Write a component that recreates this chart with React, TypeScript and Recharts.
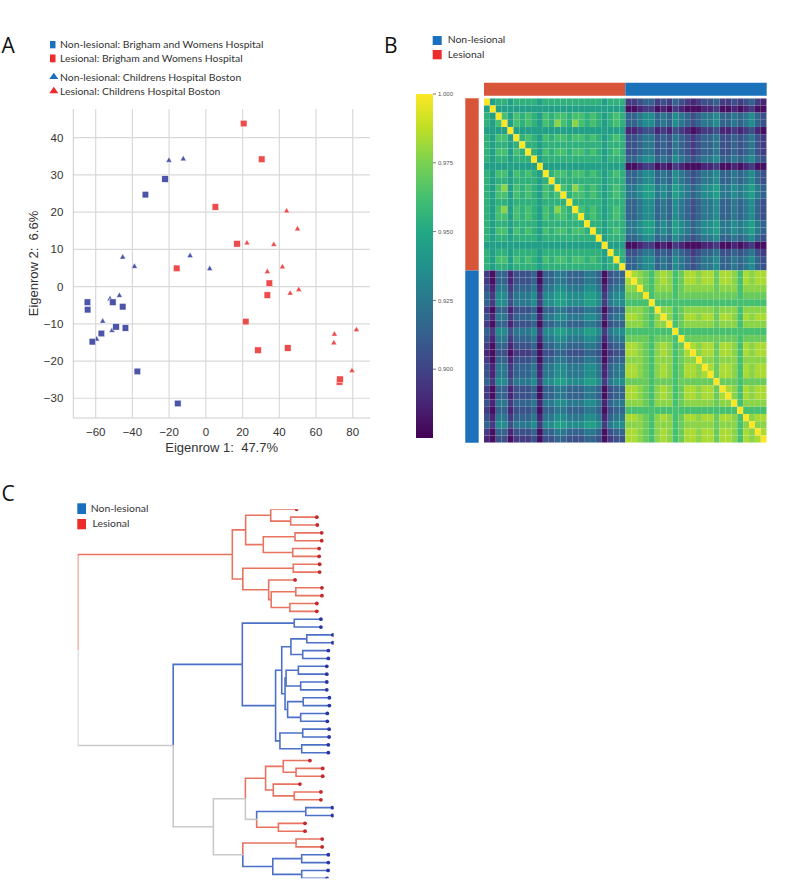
import React from "react";
import { ScatterChart, Scatter, XAxis, YAxis, ReferenceLine, ReferenceArea } from "recharts";

// ---------- Panel A: eigenrow scatter ----------
const nonLesionalBWH: [number, number][] = [
  [-22.2, 28.9], [-32.9, 24.7], [-64.5, -4.2], [-64.4, -6.2], [-50.7, -4.2], [-45.3, -5.4],
  [-48.9, -10.8], [-43.8, -11.1], [-56.9, -12.6], [-61.8, -14.8], [-37.3, -22.8], [-15.3, -31.4],
];
const nonLesionalCHB: [number, number][] = [
  [-20.1, 34.0], [-12.3, 34.4], [-45.3, 8.0], [-38.9, 5.5], [-8.6, 8.4], [2.1, 4.9],
  [-52.2, -3.2], [-47.1, -2.3], [-56.2, -9.2], [-51.1, -11.7], [-59.5, -14.0],
];
const lesionalBWH: [number, number][] = [
  [20.6, 43.8], [30.4, 34.2], [5.2, 21.4], [17.0, 11.5], [-15.9, 4.9], [34.6, 0.9],
  [33.5, -2.3], [21.7, -9.4], [28.4, -17.1], [44.6, -16.5], [72.8, -25.6], [73.1, -24.9],
];
const lesionalCHB: [number, number][] = [
  [44.0, 20.4], [49.9, 15.6], [22.4, 11.8], [37.0, 11.4], [41.7, 5.4], [33.5, 4.1],
  [45.9, -1.7], [50.6, -0.7], [70.0, -12.7], [69.7, -15.0], [82.0, -11.5], [79.6, -22.5],
];
const eigenXTicks = [-60, -40, -20, 0, 20, 40, 60, 80];
const eigenYTicks = [-30, -20, -10, 0, 10, 20, 30, 40];
const X_DOMAIN: [number, number] = [-72.2, 89.4];
const Y_DOMAIN: [number, number] = [-35.3, 47.7];

// ---------- Panel B: correlation heatmap ----------
const heatmapGroups = "LLLLLLLLLLLLLLLLLLLLLLLLNNNNNNNNNNNNNNNNNNNNNNNN";
const colorbarTicks = [0.9, 0.925, 0.95, 0.975, 1.0];
const levelValue: Record<string, number> = {
  "0": 0.88, "1": 0.888, "2": 0.897, "3": 0.906, "4": 0.915, "5": 0.925, "6": 0.935,
  "7": 0.945, "8": 0.955, "9": 0.963, a: 0.971, b: 0.978, c: 0.984, X: 1.0,
};
const corrRows = [
  "X78878888788888888887888" + "223442324321233422323421",
  "7X7777777777777777777777" + "001220102100011200101200",
  "87X979898798998998987898" + "445664546543455644545643",
  "879X79898798b98b98987898" + "445664546543455644545643",
  "7777X7777777777777777777" + "112331213210122311212310",
  "87997X898798998998987898" + "334553435432344533434532",
  "878878X88788888888887888" + "334553435432344533434532",
  "8799798X8798998998987898" + "334553435432344533434532",
  "87887888X788888888887888" + "445664546543455644545643",
  "777777777X77777777777777" + "001220102100011200101200",
  "8799798987X8998998987898" + "445664546543455644545643",
  "87887888878X888888887888" + "445664546543455644545643",
  "879b79898798X98b98987898" + "556775657654566755656754",
  "8799798987989X8998987898" + "556775657654566755656754",
  "87887888878888X888887888" + "445664546543455644545643",
  "879b79898798b98X98987898" + "445664546543455644545643",
  "8799798987989989X8987898" + "445664546543455644545643",
  "87887888878888888X887888" + "556775657654566755656754",
  "879979898798998998X87898" + "556775657654566755656754",
  "8788788887888888888X7888" + "445664546543455644545643",
  "77777777777777777777X777" + "001220102100011200101200",
  "878878888788888888887X88" + "334553435432344533434532",
  "8799798987989989989878X8" + "445664546543455644545643",
  "87887888878888888888788X" + "445664546543455644545643",
  "204413334044554445540344" + "Xcba9bcb9accbccaccb9cbcc",
  "204413334044554445540344" + "cXba9bcb9accbccaccb9cbcc",
  "315524445155665556651455" + "bbXa9bbb9abbbbbabbb9bbbb",
  "426635556266776667762566" + "aaaX9aaa9aaaaaaaaaa9aaaa",
  "426635556266776667762566" + "9999X9999999999999999999",
  "204413334044554445540344" + "bbba9Xbb9abbbbbabbb9bbbb",
  "315524445155665556651455" + "ccba9bXb9accbccaccb9cbcc",
  "204413334044554445540344" + "bbba9bbX9abbbbbabbb9bbbb",
  "426635556266776667762566" + "99999999X999999999999999",
  "315524445155665556651455" + "aaaa9aaa9Xaaaaaaaaa9aaaa",
  "204413334044554445540344" + "ccba9bcb9aXcbccaccb9cbcc",
  "103302223033443334430233" + "ccba9bcb9acXbccaccb9cbcc",
  "204413334044554445540344" + "bbba9bbb9abbXbbabbb9bbbb",
  "315524445155665556651455" + "ccba9bcb9accbXcaccb9cbcc",
  "315524445155665556651455" + "ccba9bcb9accbcXaccb9cbcc",
  "426635556266776667762566" + "aaaa9aaa9aaaaaaXaaa9aaaa",
  "204413334044554445540344" + "ccba9bcb9accbccaXcb9cbcc",
  "204413334044554445540344" + "ccba9bcb9accbccacXb9cbcc",
  "315524445155665556651455" + "bbba9bbb9abbbbbabbX9bbbb",
  "204413334044554445540344" + "9999999999999999999X9999",
  "315524445155665556651455" + "ccba9bcb9accbccaccb9Xbcc",
  "426635556266776667762566" + "bbba9bbb9abbbbbabbb9bXbb",
  "204413334044554445540344" + "ccba9bcb9accbccaccb9cbXc",
  "103302223033443334430233" + "ccba9bcb9accbccaccb9cbcX",
];

// ---------- Panel C: dendrogram ----------
const leafGroups = "LLLLLLLLLLLLLL" + "NNNNNNNNNNNNNNNNNN" + "LLLLLL" + "NN" + "LLLL" + "NNNN";
const leafDepth = [
  0.855, 0.934, 0.936, 0.953, 0.953, 0.943, 0.943, 0.945, 0.945, 0.849, 0.954, 0.954,
  0.934, 0.934, 0.95, 0.95, 0.997, 0.997, 0.979, 0.979, 0.973, 0.973, 0.973, 0.973,
  0.983, 0.983, 0.975, 0.975, 0.982, 0.982, 0.979, 0.979, 0.907, 0.957, 0.957, 0.868,
  0.95, 0.95, 0.995, 0.995, 0.888, 0.888, 0.955, 0.955, 0.979, 0.979, 0.978, 0.974,
];
// [childA, childB, depth]; ids >= 48 point to earlier merges
const merges: [number, number, number][] = [
  [1, 2, 0.832], [0, 48, 0.754], [3, 4, 0.849], [5, 6, 0.84], [50, 51, 0.725],
  [49, 52, 0.656], [7, 8, 0.842], [10, 11, 0.852], [12, 13, 0.829], [55, 56, 0.756],
  [9, 57, 0.746], [54, 58, 0.645], [53, 59, 0.604], [14, 15, 0.846], [16, 17, 0.895],
  [18, 19, 0.879], [62, 63, 0.833], [20, 21, 0.862], [22, 23, 0.871], [65, 66, 0.814],
  [24, 25, 0.881], [26, 27, 0.871], [68, 69, 0.82], [67, 70, 0.81], [64, 71, 0.797],
  [28, 29, 0.879], [30, 31, 0.875], [73, 74, 0.79], [72, 75, 0.773], [61, 76, 0.643],
  [33, 34, 0.853], [32, 78, 0.803], [36, 37, 0.846], [35, 80, 0.764], [79, 81, 0.734],
  [38, 39, 0.891], [40, 41, 0.784], [83, 84, 0.699], [82, 85, 0.655], [42, 43, 0.853],
  [44, 45, 0.875], [46, 47, 0.875], [88, 89, 0.762], [87, 90, 0.645], [86, 91, 0.53],
  [77, 92, 0.373], [60, 93, 0.0],
];

// ---------- helpers ----------
const VIRIDIS = ["#440154", "#482475", "#414487", "#355f8d", "#2a788e", "#21918c", "#22a884", "#44bf70", "#7ad151", "#bddf26", "#fde725"];
const hex = (h: string) => [1, 3, 5].map((i) => parseInt(h.slice(i, i + 2), 16));
const viridis = (t: number) => {
  const s = Math.max(0, Math.min(1, t)) * 10;
  const i = Math.min(9, Math.floor(s));
  const f = s - i;
  const a = hex(VIRIDIS[i]);
  const b = hex(VIRIDIS[i + 1]);
  return `rgb(${a.map((v, k) => Math.round(v + (b[k] - v) * f)).join(",")})`;
};
const CB_MIN = 0.875;
const CB_MAX = 1.0;

const BLUE_PT = "#4b54a8";
const RED_PT = "#ee4b4b";
const LEG_BLUE = "#1b6fbf";
const LEG_RED = "#ee2b2b";
const ANN_RED = "#d9553a";
const ANN_BLUE = "#1b72bb";
const GRID = "#d9d9d9";
const minus = (v: number) => (v < 0 ? `\u2212${Math.abs(v)}` : `${v}`);
const toPts = (arr: [number, number][]) => arr.map(([x, y]) => ({ x, y }));

const Square = (p: any) => (
  <rect x={p.cx - 3.3} y={p.cy - 3.3} width={6.6} height={6.6} fill={p.fill} stroke="#fff" strokeWidth={0.5} />
);
const Triangle = (p: any) => (
  <polygon
    points={`${p.cx},${p.cy - 3} ${p.cx + 2.9},${p.cy + 2.2} ${p.cx - 2.9},${p.cy + 2.2}`}
    fill={p.fill}
    stroke="#fff"
    strokeWidth={0.4}
  />
);
const NoDot = () => <g />;

const tickStyle = { fontFamily: "Liberation Sans, Arial", fontSize: 11.5, fill: "#333" };

const EigenScatter = () => (
  <ScatterChart width={380} height={360} margin={{ top: 9, right: 10, bottom: 17, left: 0 }}>
    {eigenYTicks.map((t) => (
      <ReferenceLine key={`gy${t}`} y={t} stroke={GRID} strokeWidth={1.2} />
    ))}
    {eigenXTicks.map((t) => (
      <ReferenceLine key={`gx${t}`} x={t} stroke={GRID} strokeWidth={1.2} />
    ))}
    <XAxis
      type="number"
      dataKey="x"
      domain={X_DOMAIN}
      allowDataOverflow
      ticks={eigenXTicks}
      tickFormatter={minus}
      height={25}
      tickLine={false}
      tickMargin={4}
      axisLine={{ stroke: "#cccccc" }}
      tick={tickStyle}
      label={{ value: "Eigenrow 1:\u00a0\u00a047.7%", position: "bottom", offset: 0, style: { fontFamily: "Liberation Sans, Arial", fontSize: 13, fill: "#333" } }}
    />
    <YAxis
      type="number"
      dataKey="y"
      domain={Y_DOMAIN}
      allowDataOverflow
      ticks={eigenYTicks}
      tickFormatter={minus}
      width={73.3}
      tickLine={false}
      tickMargin={4}
      axisLine={{ stroke: "#cccccc" }}
      tick={tickStyle}
      label={{ value: "Eigenrow 2:\u00a0\u00a06.6%", angle: -90, position: "insideLeft", offset: 33, style: { textAnchor: "middle", fontFamily: "Liberation Sans, Arial", fontSize: 13, fill: "#333" } }}
    />
    <Scatter data={toPts(nonLesionalCHB)} fill={BLUE_PT} shape={Triangle} isAnimationActive={false} />
    <Scatter data={toPts(lesionalCHB)} fill={RED_PT} shape={Triangle} isAnimationActive={false} />
    <Scatter data={toPts(nonLesionalBWH)} fill={BLUE_PT} shape={Square} isAnimationActive={false} />
    <Scatter data={toPts(lesionalBWH)} fill={RED_PT} shape={Square} isAnimationActive={false} />
  </ScatterChart>
);

// heatmap layout
const HM_W = 282.7;
const HM_H = 344.4;
const N = corrRows.length;
const CELL_W = HM_W / N;
const CELL_H = HM_H / N;
const heatCells = corrRows.flatMap((row, r) =>
  row.split("").map((ch, c) => ({ x: c + 0.5, y: r + 0.5, v: levelValue[ch] }))
);
const groupRuns = (() => {
  const runs: { g: string; start: number; end: number }[] = [];
  heatmapGroups.split("").forEach((g, i) => {
    const last = runs[runs.length - 1];
    if (last && last.g === g) last.end = i + 1;
    else runs.push({ g, start: i, end: i + 1 });
  });
  return runs;
})();
const HeatCell = (p: any) => (
  <rect
    x={p.cx - CELL_W / 2}
    y={p.cy - CELL_H / 2}
    width={CELL_W}
    height={CELL_H}
    fill={viridis((p.payload.v - CB_MIN) / (CB_MAX - CB_MIN))}
    stroke="#ffffff"
    strokeOpacity={0.08}
    strokeWidth={0.5}
  />
);

const Heatmap = () => (
  <ScatterChart width={340} height={390} margin={{ top: 28.3, right: 13.3, bottom: 17.3, left: 44 }}>
    <XAxis type="number" dataKey="x" domain={[0, N]} allowDataOverflow hide />
    <YAxis type="number" dataKey="y" domain={[0, N]} allowDataOverflow reversed hide />
    <Scatter data={heatCells} shape={HeatCell} isAnimationActive={false} />
    {groupRuns.map((run) => (
      <ReferenceArea
        key={`r${run.start}`}
        x1={-3.18}
        x2={-0.9}
        y1={run.start}
        y2={run.end}
        ifOverflow="visible"
        fill={run.g === "L" ? ANN_RED : ANN_BLUE}
        fillOpacity={1}
        stroke="none"
      />
    ))}
    {groupRuns.map((run) => (
      <ReferenceArea
        key={`c${run.start}`}
        x1={run.start}
        x2={run.end}
        y1={-2.17}
        y2={-0.36}
        ifOverflow="visible"
        fill={run.g === "L" ? ANN_RED : ANN_BLUE}
        fillOpacity={1}
        stroke="none"
      />
    ))}
  </ScatterChart>
);

const ColorBar = () => (
  <ScatterChart width={80} height={365} margin={{ top: 9, right: 17, bottom: 12, left: 16 }}>
    <defs>
      <linearGradient id="viridisBar" x1="0" y1="1" x2="0" y2="0">
        {VIRIDIS.map((c, i) => (
          <stop key={c} offset={`${i * 10}%`} stopColor={c} />
        ))}
      </linearGradient>
    </defs>
    <XAxis type="number" dataKey="x" domain={[0, 1]} allowDataOverflow hide />
    <YAxis
      type="number"
      dataKey="y"
      orientation="right"
      domain={[CB_MIN, CB_MAX]}
      allowDataOverflow
      ticks={colorbarTicks}
      tickFormatter={(v: number) => v.toFixed(3)}
      width={30}
      tickSize={3}
      tickMargin={2}
      axisLine={false}
      tickLine={{ stroke: "#777" }}
      tick={{ fontFamily: "Liberation Sans, Arial", fontSize: 6, fill: "#555" }}
    />
    <Scatter data={[]} shape={NoDot} isAnimationActive={false} />
    <ReferenceArea x1={0} x2={1} y1={CB_MIN} y2={CB_MAX} fill="url(#viridisBar)" fillOpacity={1} stroke="none" />
  </ScatterChart>
);

// dendrogram layout from merges
type TreeNode = { x: number; y: number; g: string };
const treeNodes: TreeNode[] = leafDepth.map((d, i) => ({ x: d, y: i, g: leafGroups[i] }));
merges.forEach(([a, b, d]) => {
  const A = treeNodes[a];
  const B = treeNodes[b];
  treeNodes.push({ x: d, y: (A.y + B.y) / 2, g: A.g === B.g ? A.g : "M" });
});
const BRANCH_COLOR: Record<string, string> = { L: "#e8735f", N: "#4c70c8", M: "#c9c9c9" };
const branches = merges.flatMap(([a, b], i) => {
  const p = treeNodes[leafDepth.length + i];
  return [a, b].map((c) => {
    const ch = treeNodes[c];
    return {
      key: `${i}-${c}`,
      color: BRANCH_COLOR[ch.g],
      pts: [
        { x: p.x, y: p.y },
        { x: p.x, y: ch.y },
        { x: ch.x, y: ch.y },
      ],
    };
  });
});
const leafPts = (g: string) => leafDepth.map((d, i) => ({ x: d, y: i, g: leafGroups[i] })).filter((p) => p.g === g);
const LeafDot = (p: any) => <circle cx={p.cx} cy={p.cy} r={1.9} fill={p.fill} />;

const Dendrogram = () => (
  <ScatterChart width={360} height={382} margin={{ top: 9.3, right: 26.3, bottom: 3.7, left: 77.7 }}>
    <XAxis type="number" dataKey="x" domain={[0, 1]} allowDataOverflow hide />
    <YAxis type="number" dataKey="y" domain={[0, leafDepth.length - 1]} allowDataOverflow reversed hide />
    {branches.map((br) => (
      <Scatter
        key={br.key}
        data={br.pts}
        line={{ stroke: br.color, strokeWidth: 1.6 }}
        shape={NoDot}
        isAnimationActive={false}
      />
    ))}
    <Scatter data={leafPts("L")} fill="#c4282c" shape={LeafDot} isAnimationActive={false} />
    <Scatter data={leafPts("N")} fill="#2a34a4" shape={LeafDot} isAnimationActive={false} />
  </ScatterChart>
);

const legendText = { fontFamily: "Lato, sans-serif", fontSize: 10.4, fill: "#333" };
const letterStyle = { fontFamily: "Open Sans, sans-serif", fontSize: 21, fill: "#111" };

const Annotations = () => (
  <svg width={800} height={882} style={{ position: "absolute", left: 0, top: 0, pointerEvents: "none" }}>
    <text x={1.5} y={52.6} {...letterStyle}>A</text>
    <text x={384} y={52.6} {...letterStyle}>B</text>
    <text x={1.5} y={500.6} {...letterStyle}>C</text>

    <rect x={50} y={41} width={5.5} height={7.3} fill={LEG_BLUE} />
    <text x={60} y={47.5} {...legendText}>Non-lesional: Brigham and Womens Hospital</text>
    <rect x={50} y={54.5} width={5.5} height={7.8} fill={LEG_RED} />
    <text x={60} y={61.6} {...legendText}>Lesional: Brigham and Womens Hospital</text>
    <polygon points="53.8,72.7 58.3,79 49.3,79" fill={LEG_BLUE} />
    <text x={60} y={81} {...legendText}>Non-lesional: Childrens Hospital Boston</text>
    <polygon points="53.8,86.7 58.3,93.3 49.3,93.3" fill={LEG_RED} />
    <text x={60} y={95} {...legendText}>Lesional: Childrens Hospital Boston</text>

    <rect x={432.7} y={36} width={9} height={9} fill={LEG_BLUE} />
    <text x={447.7} y={43.4} {...legendText}>Non-lesional</text>
    <rect x={432.7} y={50} width={9} height={9.3} fill={LEG_RED} />
    <text x={447.7} y={57.8} {...legendText}>Lesional</text>

    <rect x={77.3} y={503.3} width={8.7} height={10.7} fill={LEG_BLUE} />
    <text x={90.8} y={512.4} {...legendText}>Non-lesional</text>
    <rect x={77.3} y={519} width={8.7} height={10.3} fill={LEG_RED} />
    <text x={92.6} y={527.4} {...legendText}>Lesional</text>
  </svg>
);

export default function App() {
  return (
    <div style={{ position: "absolute", left: 0, top: 0, width: 800, height: 882, background: "#fff", overflow: "hidden" }}>
      <div style={{ position: "absolute", left: 0, top: 100 }}>
        <EigenScatter />
      </div>
      <div style={{ position: "absolute", left: 440, top: 70 }}>
        <Heatmap />
      </div>
      <div style={{ position: "absolute", left: 400, top: 85 }}>
        <ColorBar />
      </div>
      <div style={{ position: "absolute", left: 0, top: 500 }}>
        <Dendrogram />
      </div>
      <Annotations />
    </div>
  );
}
